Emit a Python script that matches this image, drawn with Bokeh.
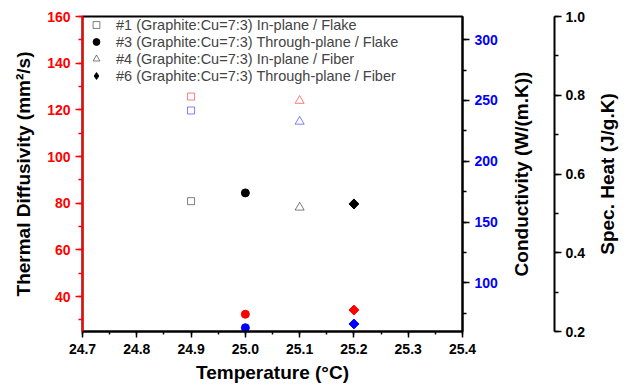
import numpy as np
from bokeh.plotting import figure
from bokeh.layouts import row
from bokeh.models import (LinearAxis, Range1d, SingleIntervalTicker, FixedTicker, Legend,
                          LegendItem, NumeralTickFormatter)
from bokeh.embed import file_html
from bokeh.resources import INLINE

# ---- data ----
temperature = [24.9, 25.0, 25.1, 25.2]
diffusivity = [125.7, 32.4, 123.9, 34.2]      # mm^2/s (left, red)
conductivity = [241.7, 63.1, 232.6, 66.2]     # W/(m.K) (right, blue)
spec_heat = [0.531, 0.552, 0.515, 0.524]      # J/g.K (far right, black)
labels = ["#1 (Graphite:Cu=7:3) In-plane / Flake",
          "#3 (Graphite:Cu=7:3) Through-plane / Flake",
          "#4 (Graphite:Cu=7:3) In-plane / Fiber",
          "#6 (Graphite:Cu=7:3) Through-plane / Fiber"]
markers = ["square", "circle", "triangle", "square"]
angles = [0, 0, 0, np.pi / 4]
sizes = [7, 8, 9, 7]
filled = [False, True, False, True]

FONT = "Liberation Sans"
H = 387
TOP, BOTTOM = 16, 56


def style(ax, line_color, lab_color, tick_out, minor_out, standoff, lab_standoff):
    ax.axis_line_color = line_color
    ax.axis_line_width = 2
    ax.major_tick_line_color = line_color
    ax.minor_tick_line_color = line_color
    ax.major_tick_line_width = 1.5
    ax.minor_tick_line_width = 1.5
    ax.major_tick_in = 0
    ax.minor_tick_in = 0
    ax.major_tick_out = tick_out
    ax.minor_tick_out = minor_out
    ax.major_label_text_color = lab_color
    ax.major_label_text_font = FONT
    ax.major_label_text_font_style = "bold"
    ax.major_label_text_font_size = "14px"
    ax.major_label_standoff = standoff
    ax.axis_label_text_font = FONT
    ax.axis_label_text_font_style = "bold"
    ax.axis_label_text_font_size = "19px"
    ax.axis_label_text_color = "black"
    ax.axis_label_standoff = lab_standoff


def title_only_axis(text):
    ax = LinearAxis(ticker=FixedTicker(ticks=[]), axis_label=text,
                    axis_line_color=None, major_tick_line_color=None,
                    minor_tick_line_color=None, major_tick_in=0, major_tick_out=0,
                    minor_tick_in=0, minor_tick_out=0, major_label_standoff=0)
    ax.axis_label_text_font = FONT
    ax.axis_label_text_font_style = "bold"
    ax.axis_label_text_font_size = "19px"
    ax.axis_label_text_color = "black"
    ax.axis_label_standoff = 2
    return ax


def bare(fig):
    fig.grid.visible = False
    fig.outline_line_color = None
    fig.background_fill_color = "white"
    fig.border_fill_color = "white"


# ---------------- main plot ----------------
p = figure(width=500, height=H, x_range=Range1d(24.7, 25.4000001), y_range=Range1d(25, 160),
           output_backend="svg", toolbar_location=None,
           min_border_left=82, min_border_right=37, min_border_top=TOP, min_border_bottom=BOTTOM)
p.extra_y_ranges = {"cond": Range1d(60, 319), "cp": Range1d(0.2, 1.0)}
p.grid.visible = False
p.outline_line_color = "black"
p.outline_line_width = 2
p.background_fill_color = "white"
p.border_fill_color = "white"

xa = p.xaxis[0]
xa.ticker = SingleIntervalTicker(interval=0.1, num_minor_ticks=2)
xa.formatter = NumeralTickFormatter(format="0.0")
xa.axis_label = "Temperature (°C)"
style(xa, "black", "black", 6, 3, 6, 5)

ya = p.yaxis[0]
ya.ticker = SingleIntervalTicker(interval=20, num_minor_ticks=2)
ya.formatter = NumeralTickFormatter(format="0")
ya.axis_label = "Thermal Diffusivity (mm²/s)"
style(ya, "#FF0000", "#FF0000", 7, 4, 5, 10)

ca = LinearAxis(y_range_name="cond",
                ticker=SingleIntervalTicker(interval=50, num_minor_ticks=2),
                formatter=NumeralTickFormatter(format="0"))
style(ca, "black", "#0000FF", 7, 4, 5, 10)
p.add_layout(ca, "right")

items = []
for i in range(len(temperature)):
    common = dict(marker=markers[i], size=sizes[i], angle=angles[i], line_width=1)
    t = [temperature[i]]
    if filled[i]:
        p.scatter(x=t, y=[diffusivity[i]], color="#FF0000", **common)
        p.scatter(x=t, y=[conductivity[i]], color="#0000FF", y_range_name="cond", **common)
        r = p.scatter(x=t, y=[spec_heat[i]], color="black", y_range_name="cp", **common)
        if angles[i] != 0:
            # legends draw markers unrotated: a diamond glyph at the same point serves the legend
            r = p.scatter(x=t, y=[spec_heat[i]], marker="diamond", size=10, color="black",
                          y_range_name="cp", line_width=1)
    else:
        p.scatter(x=t, y=[diffusivity[i]], fill_color=None, line_color="#FF0000",
                  line_alpha=0.5, **common)
        p.scatter(x=t, y=[conductivity[i]], fill_color=None, line_color="#0000FF",
                  line_alpha=0.5, y_range_name="cond", **common)
        r = p.scatter(x=t, y=[spec_heat[i]], fill_color=None, line_color="black",
                      line_alpha=0.5, y_range_name="cp", **common)
    items.append(LegendItem(label=labels[i], renderers=[r]))

legend = Legend(items=items, location="top_left", margin=0, padding=1, spacing=0,
                label_height=17, glyph_height=17, glyph_width=28, label_standoff=6,
                label_text_font=FONT, label_text_font_size="14.5px",
                border_line_color=None, background_fill_alpha=0)
p.add_layout(legend)

# ---------------- conductivity title + specific heat axis ----------------
p2 = figure(width=90, height=H, x_range=Range1d(0, 1), y_range=Range1d(0.2, 1.0),
            output_backend="svg", toolbar_location=None,
            x_axis_location=None, y_axis_location=None,
            min_border_left=33, min_border_right=36, min_border_top=TOP, min_border_bottom=BOTTOM)
bare(p2)
p2.add_layout(title_only_axis("Conductivity (W/(m.K))"), "left")
ha = LinearAxis(ticker=SingleIntervalTicker(interval=0.2, num_minor_ticks=2),
                formatter=NumeralTickFormatter(format="0.0"))
style(ha, "black", "black", 7, 4, 4, 11)
p2.add_layout(ha, "right")

# ---------------- specific heat title ----------------
p3 = figure(width=35, height=H, x_range=Range1d(0, 1), y_range=Range1d(0.2, 1.0),
            output_backend="svg", toolbar_location=None,
            x_axis_location=None, y_axis_location=None,
            min_border_left=29, min_border_right=0, min_border_top=TOP, min_border_bottom=BOTTOM)
bare(p3)
p3.add_layout(title_only_axis("Spec. Heat (J/g.K)"), "left")

layout = row(p, p2, p3)
open("out.html", "w").write(file_html(layout, INLINE))
